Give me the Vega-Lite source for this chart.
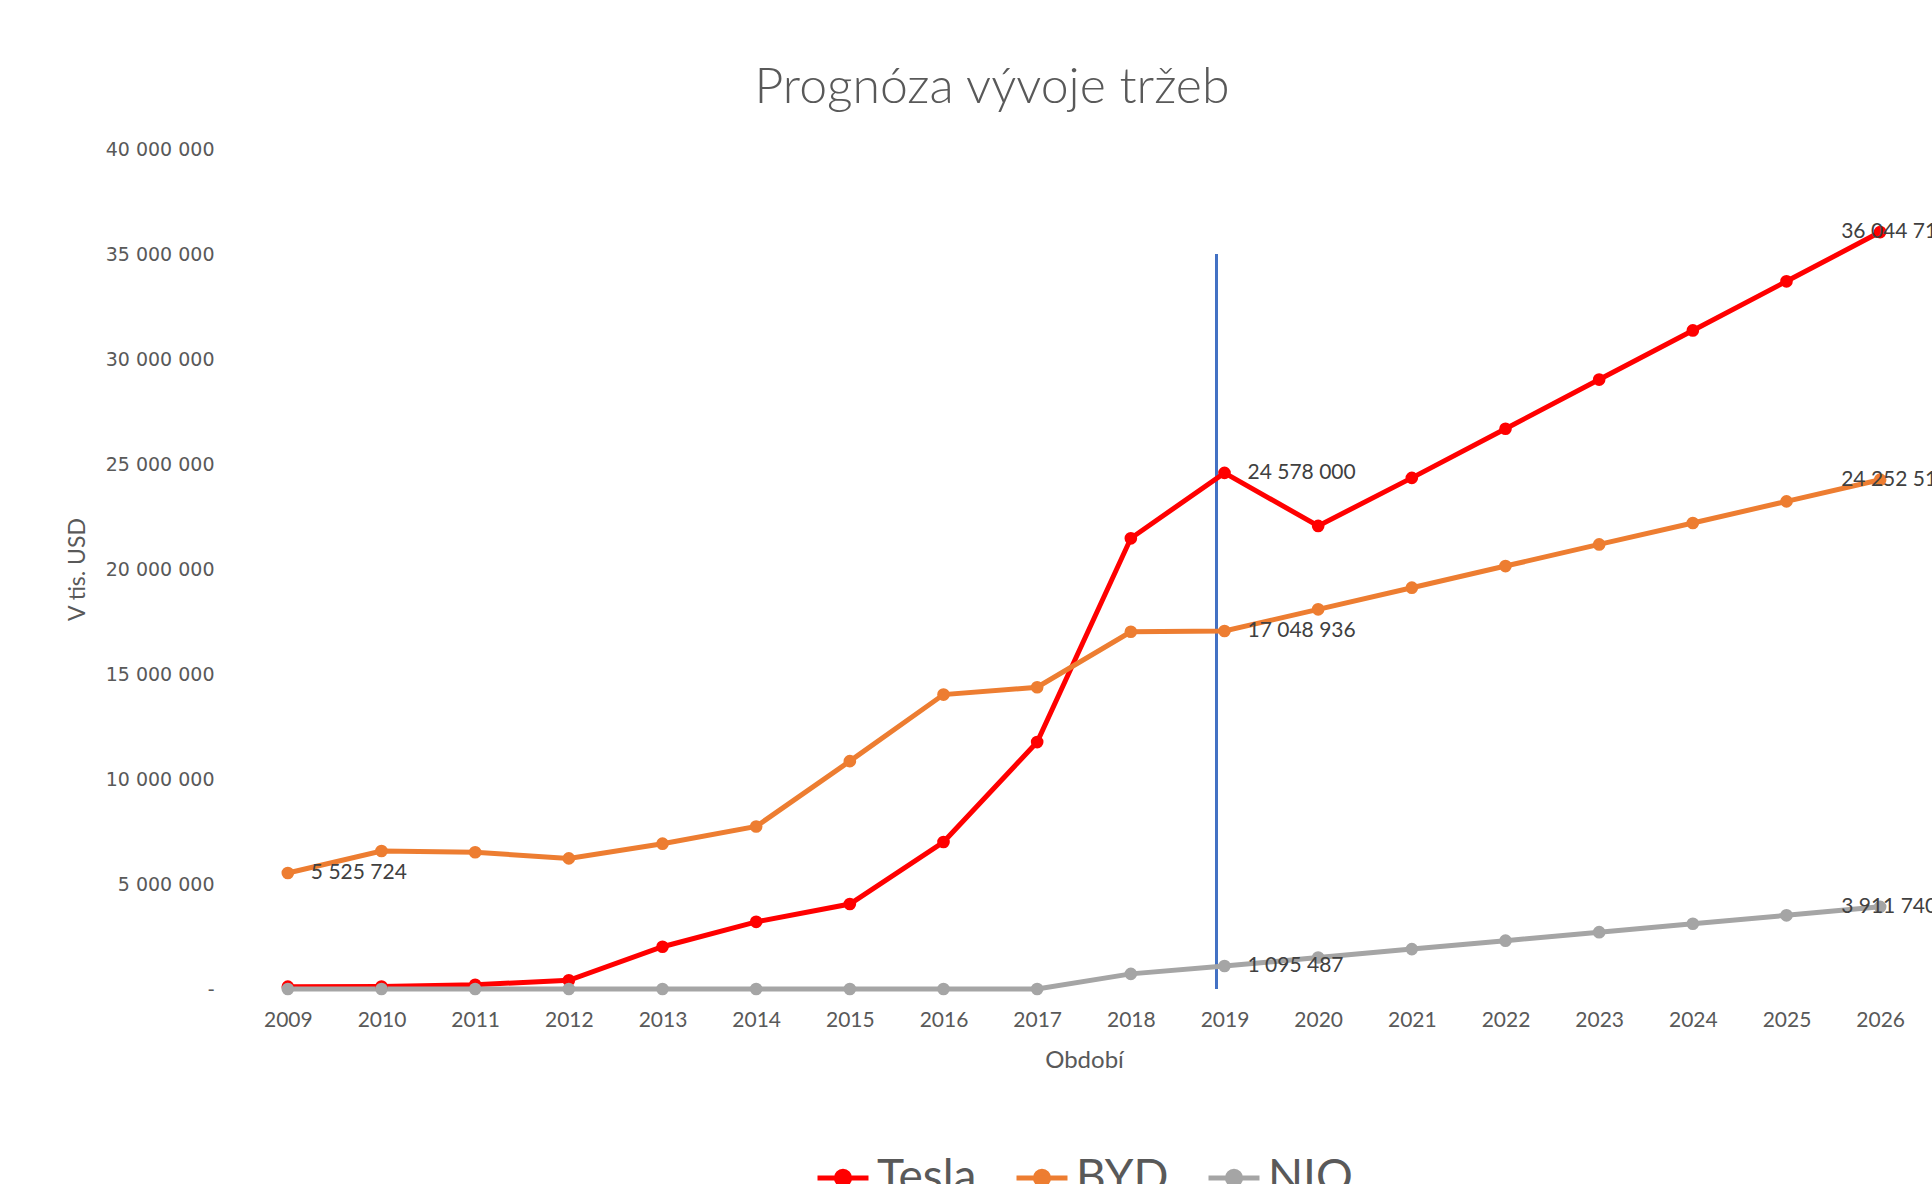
{
  "$schema": "https://vega.github.io/schema/vega-lite/v6.json",
  "width": 1686,
  "height": 840,
  "autosize": {"type": "none"},
  "padding": {"left": 241, "top": 149, "right": 5, "bottom": 195},
  "background": "white",
  "title": {
    "text": "Prognóza vývoje tržeb",
    "font": "Lato",
    "fontSize": 50,
    "fontWeight": 300,
    "color": "#595959",
    "anchor": "middle",
    "dx": -92,
    "offset": -13,
    "baseline": "alphabetic"
  },
  "datasets": {
    "revenue": [
      {"year": "2009", "series": "Tesla", "value": 111943},
      {"year": "2010", "series": "Tesla", "value": 116744},
      {"year": "2011", "series": "Tesla", "value": 204242},
      {"year": "2012", "series": "Tesla", "value": 413256},
      {"year": "2013", "series": "Tesla", "value": 2013496},
      {"year": "2014", "series": "Tesla", "value": 3198356},
      {"year": "2015", "series": "Tesla", "value": 4046025},
      {"year": "2016", "series": "Tesla", "value": 7000132},
      {"year": "2017", "series": "Tesla", "value": 11758751},
      {"year": "2018", "series": "Tesla", "value": 21461268},
      {"year": "2019", "series": "Tesla", "value": 24578000},
      {"year": "2020", "series": "Tesla", "value": 22050000},
      {"year": "2021", "series": "Tesla", "value": 24340000},
      {"year": "2022", "series": "Tesla", "value": 26680000},
      {"year": "2023", "series": "Tesla", "value": 29020000},
      {"year": "2024", "series": "Tesla", "value": 31360000},
      {"year": "2025", "series": "Tesla", "value": 33700000},
      {"year": "2026", "series": "Tesla", "value": 36044712},
      {"year": "2009", "series": "BYD", "value": 5525724},
      {"year": "2010", "series": "BYD", "value": 6570000},
      {"year": "2011", "series": "BYD", "value": 6510000},
      {"year": "2012", "series": "BYD", "value": 6220000},
      {"year": "2013", "series": "BYD", "value": 6920000},
      {"year": "2014", "series": "BYD", "value": 7740000},
      {"year": "2015", "series": "BYD", "value": 10850000},
      {"year": "2016", "series": "BYD", "value": 14020000},
      {"year": "2017", "series": "BYD", "value": 14370000},
      {"year": "2018", "series": "BYD", "value": 17010000},
      {"year": "2019", "series": "BYD", "value": 17048936},
      {"year": "2020", "series": "BYD", "value": 18080000},
      {"year": "2021", "series": "BYD", "value": 19110000},
      {"year": "2022", "series": "BYD", "value": 20140000},
      {"year": "2023", "series": "BYD", "value": 21170000},
      {"year": "2024", "series": "BYD", "value": 22190000},
      {"year": "2025", "series": "BYD", "value": 23220000},
      {"year": "2026", "series": "BYD", "value": 24252510},
      {"year": "2009", "series": "NIO", "value": 0},
      {"year": "2010", "series": "NIO", "value": 0},
      {"year": "2011", "series": "NIO", "value": 0},
      {"year": "2012", "series": "NIO", "value": 0},
      {"year": "2013", "series": "NIO", "value": 0},
      {"year": "2014", "series": "NIO", "value": 0},
      {"year": "2015", "series": "NIO", "value": 0},
      {"year": "2016", "series": "NIO", "value": 0},
      {"year": "2017", "series": "NIO", "value": 0},
      {"year": "2018", "series": "NIO", "value": 720000},
      {"year": "2019", "series": "NIO", "value": 1095487},
      {"year": "2020", "series": "NIO", "value": 1498000},
      {"year": "2021", "series": "NIO", "value": 1900000},
      {"year": "2022", "series": "NIO", "value": 2302000},
      {"year": "2023", "series": "NIO", "value": 2705000},
      {"year": "2024", "series": "NIO", "value": 3107000},
      {"year": "2025", "series": "NIO", "value": 3509000},
      {"year": "2026", "series": "NIO", "value": 3911740}
    ]
  },
  "data": {"name": "revenue"},
  "layer": [
    {
      "mark": {"type": "rule", "color": "#4472C4", "strokeWidth": 1.3, "xOffset": -8},
      "encoding": {
        "x": {"datum": "2019", "type": "ordinal"},
        "y": {"datum": 35000000, "type": "quantitative"},
        "y2": {"datum": 0}
      }
    },
    {
      "mark": {"type": "line", "strokeWidth": 5, "point": {"filled": true, "size": 160}},
      "encoding": {
        "x": {
          "field": "year",
          "type": "ordinal",
          "scale": {"type": "point", "padding": 0.5},
          "axis": {
            "title": "Období",
            "labelAngle": 0,
            "labelAlign": "center",
            "labelFont": "Lato",
            "labelFontSize": 21,
            "labelColor": "#595959",
            "labelPadding": 31,
            "ticks": false,
            "domain": false,
            "grid": false,
            "titleFont": "Lato",
            "titleFontSize": 24,
            "titleFontWeight": "normal",
            "titleColor": "#595959",
            "titlePadding": 18
          }
        },
        "y": {
          "field": "value",
          "type": "quantitative",
          "scale": {"domain": [0, 40000000], "nice": false},
          "axis": {
            "title": "V tis. USD",
            "values": [0, 5000000, 10000000, 15000000, 20000000, 25000000, 30000000, 35000000, 40000000],
            "format": ",d",
            "labelExpr": "datum.value === 0 ? '-\u2007\u2007' : datum.label",
            "labelFont": "DejaVu Sans",
            "labelFontSize": 19,
            "labelColor": "#595959",
            "labelPadding": 27,
            "ticks": false,
            "domain": false,
            "gridColor": "#D9D9D9",
            "gridWidth": 1.5,
            "titleFont": "Lato",
            "titleFontSize": 23,
            "titleFontWeight": "normal",
            "titleColor": "#595959",
            "titlePadding": 16
          }
        },
        "color": {
          "field": "series",
          "type": "nominal",
          "sort": ["Tesla", "BYD", "NIO"],
          "scale": {"domain": ["Tesla", "BYD", "NIO"], "range": ["#FF0000", "#ED7D31", "#A5A5A5"]},
          "legend": {
            "title": null,
            "orient": "bottom",
            "direction": "horizontal",
            "offset": 78,
            "labelFont": "Lato",
            "labelFontSize": 46,
            "labelColor": "#595959",
            "labelOffset": 6,
            "columnPadding": 29,
            "symbolType": "M-1,0L1,0M0.26,0A0.26,0.26,0,1,1,-0.26,0A0.26,0.26,0,1,1,0.26,0",
            "symbolSize": 2600,
            "symbolStrokeWidth": 5
          }
        }
      }
    },
    {
      "transform": [{"filter": "(datum.series == 'BYD' && datum.year == '2009') || datum.year == '2019'"}],
      "mark": {"type": "text", "align": "left", "baseline": "middle", "dx": 23, "font": "Lato", "fontSize": 21, "color": "#404040"},
      "encoding": {
        "x": {"field": "year", "type": "ordinal"},
        "y": {"field": "value", "type": "quantitative"},
        "text": {"field": "value", "type": "quantitative", "format": ",d"}
      }
    },
    {
      "transform": [{"filter": "datum.year == '2026'"}],
      "mark": {"type": "text", "align": "left", "baseline": "middle", "dx": -39, "font": "Lato", "fontSize": 21, "color": "#404040"},
      "encoding": {
        "x": {"field": "year", "type": "ordinal"},
        "y": {"field": "value", "type": "quantitative"},
        "text": {"field": "value", "type": "quantitative", "format": ",d"}
      }
    }
  ],
  "config": {
    "locale": {"number": {"decimal": ",", "thousands": " ", "grouping": [3], "currency": ["", " Kč"]}},
    "view": {"stroke": null},
    "legend": {"layout": {"bottom": {"anchor": "middle"}}}
  }
}
